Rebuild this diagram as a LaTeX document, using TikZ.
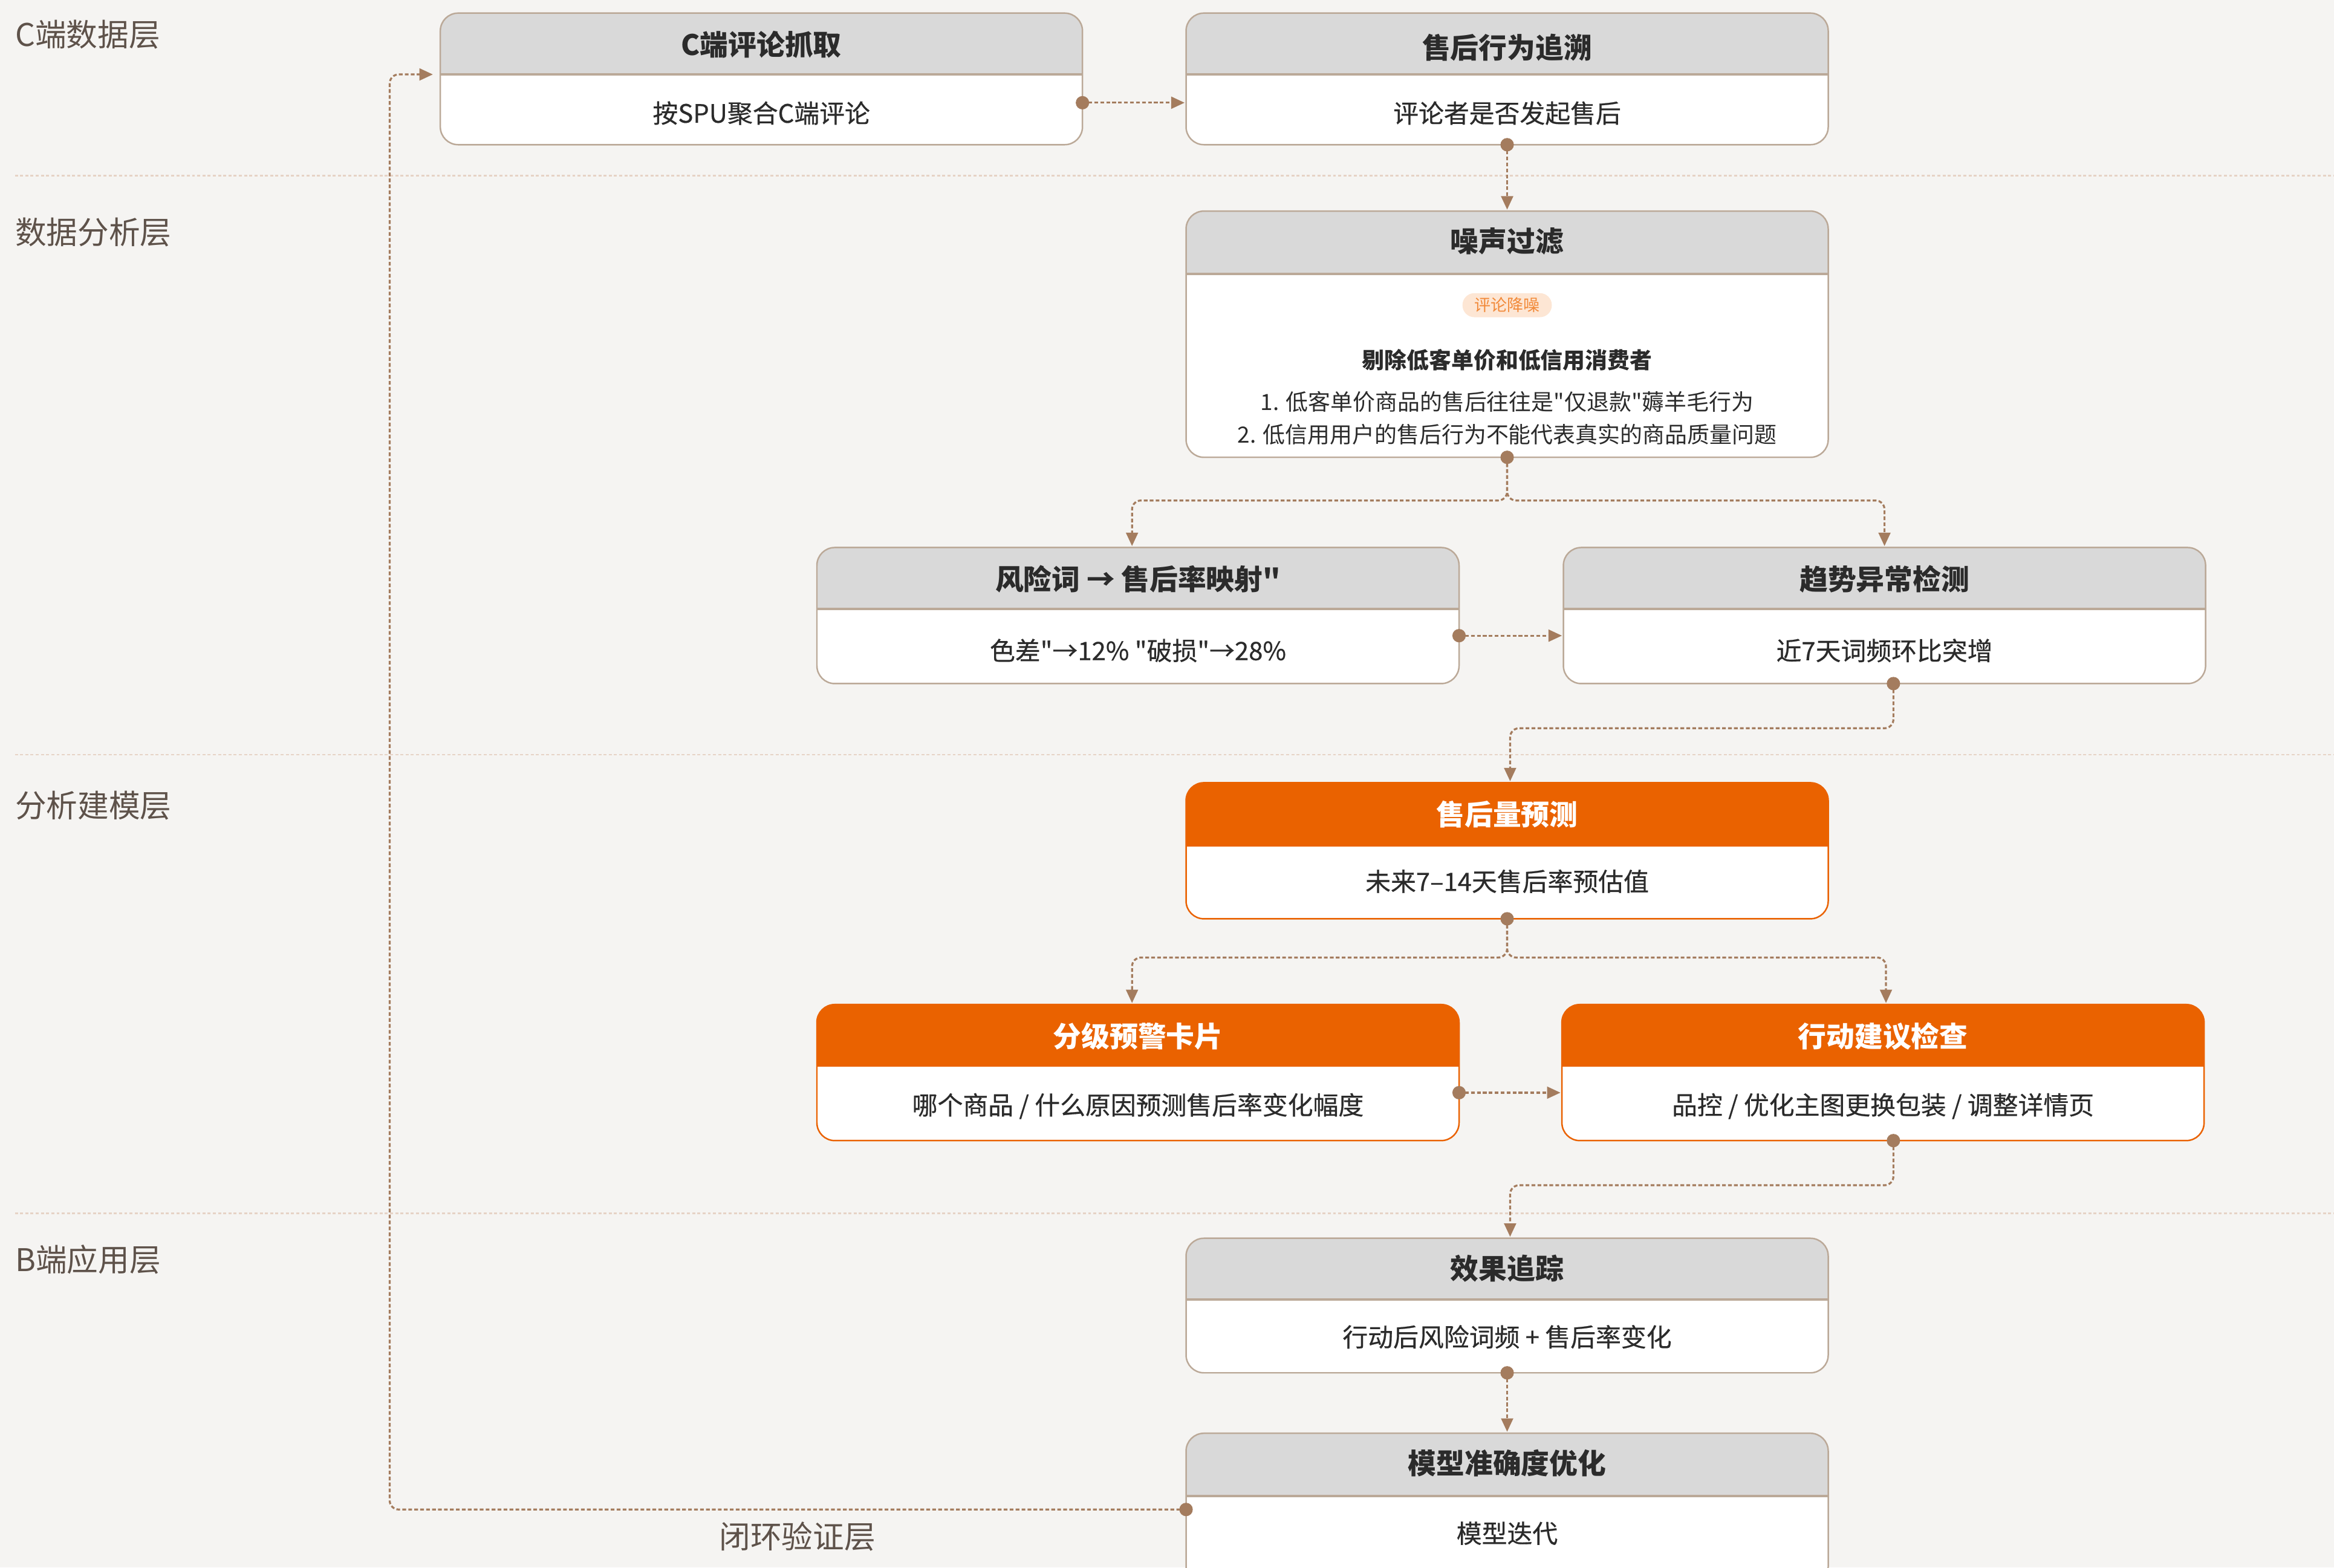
\documentclass[tikz,border=0pt]{standalone}
\usepackage{fontspec}
\setmainfont{Noto Sans CJK SC}[Ligatures=TeXOff]
\newfontfamily\medf{Noto Sans CJK SC}[Ligatures=TeXOff, FakeBold=0.5]
\usetikzlibrary{arrows.meta}
\definecolor{bgc}{HTML}{F5F4F2}
\definecolor{hdrgray}{HTML}{D9D9D9}
\definecolor{orng}{HTML}{EA6200}
\definecolor{cc}{HTML}{A47C5E}
\definecolor{laycol}{HTML}{E6D3C6}
\definecolor{lblcol}{HTML}{5E524A}
\definecolor{bordcol}{HTML}{BBA998}
\definecolor{divcol}{HTML}{C9B3A2}
\definecolor{txtdark}{HTML}{2B2B2B}
\definecolor{tagfill}{HTML}{FDE6D4}
\definecolor{tagtxt}{HTML}{F28A3A}
\newcommand\mycard[7]{%
  \node[cardbase, minimum height={#4-#3}] (#1) at (#2,{-(#3+#4)/2}) {};
  \coordinate (#1d) at (0,-#5);
  \begin{scope}
    \clip[rounded corners=12pt] (#1.south west) rectangle (#1.north east);
    \fill[#6] (#1.north west) rectangle (#1.east |- #1d);
  \end{scope}
  \draw[#7, line width=1.4pt] (#1.west |- #1d) -- (#1.east |- #1d);
  \draw[#7, line width=1pt, rounded corners=12pt] (#1.south west) rectangle (#1.north east);
}
\tikzset{
  cardbase/.style={rectangle, fill=white, inner sep=0pt, minimum width=431, rounded corners=12pt},
  hdrtext/.style={font=\bfseries\fontsize{19}{23}\selectfont, text=txtdark, inner sep=0pt},
  hdrwhite/.style={font=\bfseries\fontsize{19}{23}\selectfont, text=white, inner sep=0pt},
  bodytext/.style={font=\medf\fontsize{17}{21}\selectfont, text=txtdark, inner sep=0pt},
  smalltext/.style={font=\medf\fontsize{15}{18}\selectfont, text=txtdark, inner sep=0pt},
  layerlbl/.style={font=\fontsize{21}{25}\selectfont, text=lblcol, anchor=west, inner sep=0pt},
  layerline/.style={draw=laycol, line width=1pt, dash pattern=on 2pt off 1.5pt},
  conn/.style={draw=cc, line width=1.3pt, dash pattern=on 2.5pt off 1.5pt, rounded corners=6pt, -{Triangle[length=9pt,width=8pt]}, shorten >=1pt},
  dotc/.style={fill=cc},
  tagbox/.style={fill=tagfill, text=tagtxt, rounded corners=8pt, font=\fontsize{11}{13}\selectfont, inner xsep=8pt, inner ysep=3pt}
}
\begin{document}
\begin{tikzpicture}[x=1pt,y=1pt]
\fill[bgc] (0,0) rectangle (1568,-1053);
\useasboundingbox (0,0) rectangle (1568,-1053);

% layer lines
\draw[layerline] (10,-118) -- (1568,-118);
\draw[layerline] (10,-507) -- (1568,-507);
\draw[layerline] (10,-815) -- (1568,-815);

% layer labels
\node[layerlbl] (L1) at (10,-23) {C端数据层};
\node[layerlbl] (L2) at (10,-156) {数据分析层};
\node[layerlbl] (L3) at (10,-541) {分析建模层};
\node[layerlbl] (L4) at (10,-846) {B端应用层};
\node[layerlbl] (L5) at (483,-1032) {闭环验证层};

% cards
\mycard{b1}{511.5}{9}{97}{50}{hdrgray}{bordcol}
\mycard{b2}{1012.5}{9}{97}{50}{hdrgray}{bordcol}
\mycard{b3}{1012.5}{142}{307}{184}{hdrgray}{bordcol}
\mycard{b4}{764.5}{368}{459}{409}{hdrgray}{bordcol}
\mycard{b5}{1266}{368}{459}{409}{hdrgray}{bordcol}
\mycard{b6}{1012.5}{526}{617}{568}{orng}{orng}
\mycard{b7}{764.5}{675}{766}{716}{orng}{orng}
\mycard{b8}{1265}{675}{766}{716}{orng}{orng}
\mycard{b9}{1012.5}{832}{922}{873}{hdrgray}{bordcol}
\mycard{b10}{1012.5}{963}{1064}{1005}{hdrgray}{bordcol}

% texts
\node[hdrtext] (t1h) at (511.5,-30) {C端评论抓取};
\node[bodytext] (t1b) at (511.5,-76) {按SPU聚合C端评论};
\node[hdrtext] (t2h) at (1012.5,-32) {售后行为追溯};
\node[bodytext] (t2b) at (1012.5,-76) {评论者是否发起售后};
\node[hdrtext] (t3h) at (1012.5,-162) {噪声过滤};
\node[tagbox] (tag) at (1012.5,-205) {评论降噪};
\node[smalltext, font=\bfseries\fontsize{15}{18}\selectfont] (t3a) at (1012.5,-242) {剔除低客单价和低信用消费者};
\node[smalltext, font=\fontsize{15}{18}\selectfont] (t3b) at (1012.5,-270) {1. 低客单价商品的售后往往是"仅退款"薅羊毛行为};
\node[smalltext, font=\fontsize{15}{18}\selectfont] (t3c) at (1012.5,-292) {2. 低信用用户的售后行为不能代表真实的商品质量问题};
\node[hdrtext] (t4h) at (764.5,-389) {风险词 → 售后率映射"};
\node[bodytext] (t4b) at (764.5,-437) {色差"→12\% "破损"→28\%};
\node[hdrtext] (t5h) at (1266,-389) {趋势异常检测};
\node[bodytext] (t5b) at (1266,-437) {近7天词频环比突增};
\node[hdrwhite] (t6h) at (1012.5,-547) {售后量预测};
\node[bodytext] (t6b) at (1012.5,-592) {未来7–14天售后率预估值};
\node[hdrwhite] (t7h) at (764.5,-696) {分级预警卡片};
\node[bodytext] (t7b) at (764.5,-743) {哪个商品 / 什么原因预测售后率变化幅度};
\node[hdrwhite] (t8h) at (1265,-696) {行动建议检查};
\node[bodytext] (t8b) at (1265,-743) {品控 / 优化主图更换包装 / 调整详情页};
\node[hdrtext] (t9h) at (1012.5,-852) {效果追踪};
\node[bodytext] (t9b) at (1012.5,-898) {行动后风险词频 + 售后率变化};
\node[hdrtext] (t10h) at (1012.5,-983) {模型准确度优化};
\node[bodytext] (t10b) at (1012.5,-1030) {模型迭代};

% connectors
\draw[conn] ([yshift=-16pt]b1.east) -- ([yshift=-16pt]b2.west);
\fill[dotc] ([yshift=-16pt]b1.east) circle (4.5);
\draw[conn] (b2.south) -- (b3.north);
\fill[dotc] (b2.south) circle (4.5);
\draw[conn] (b3.south) -- ++(0,-29) -| ([xshift=-4pt]b4.north);
\draw[conn] (b3.south) -- ++(0,-29) -| (b5.north);
\fill[dotc] (b3.south) circle (4.5);
\draw[conn] ([yshift=-13.5pt]b4.east) -- ([yshift=-13.5pt]b5.west);
\fill[dotc] ([yshift=-13.5pt]b4.east) circle (4.5);
\draw[conn] ([xshift=6pt]b5.south) -- ++(0,-30) -| ([xshift=2pt]b6.north);
\fill[dotc] ([xshift=6pt]b5.south) circle (4.5);
\draw[conn] (b6.south) -- ++(0,-26) -| ([xshift=-4pt]b7.north);
\draw[conn] (b6.south) -- ++(0,-26) -| ([xshift=2pt]b8.north);
\fill[dotc] (b6.south) circle (4.5);
\draw[conn] ([yshift=-13.5pt]b7.east) -- ([yshift=-13.5pt]b8.west);
\fill[dotc] ([yshift=-13.5pt]b7.east) circle (4.5);
\draw[conn] ([xshift=7pt]b8.south) -- ++(0,-30) -| ([xshift=2pt]b9.north);
\fill[dotc] ([xshift=7pt]b8.south) circle (4.5);
\draw[conn] (b9.south) -- (b10.north);
\fill[dotc] (b9.south) circle (4.5);
\draw[conn] ([yshift=-0.5pt]b10.west) -| ([xshift=-34pt,yshift=3pt]b1.west) -- ([xshift=-4pt,yshift=3pt]b1.west);
\fill[dotc] ([yshift=-0.5pt]b10.west) circle (4.5);
\end{tikzpicture}
\end{document}
